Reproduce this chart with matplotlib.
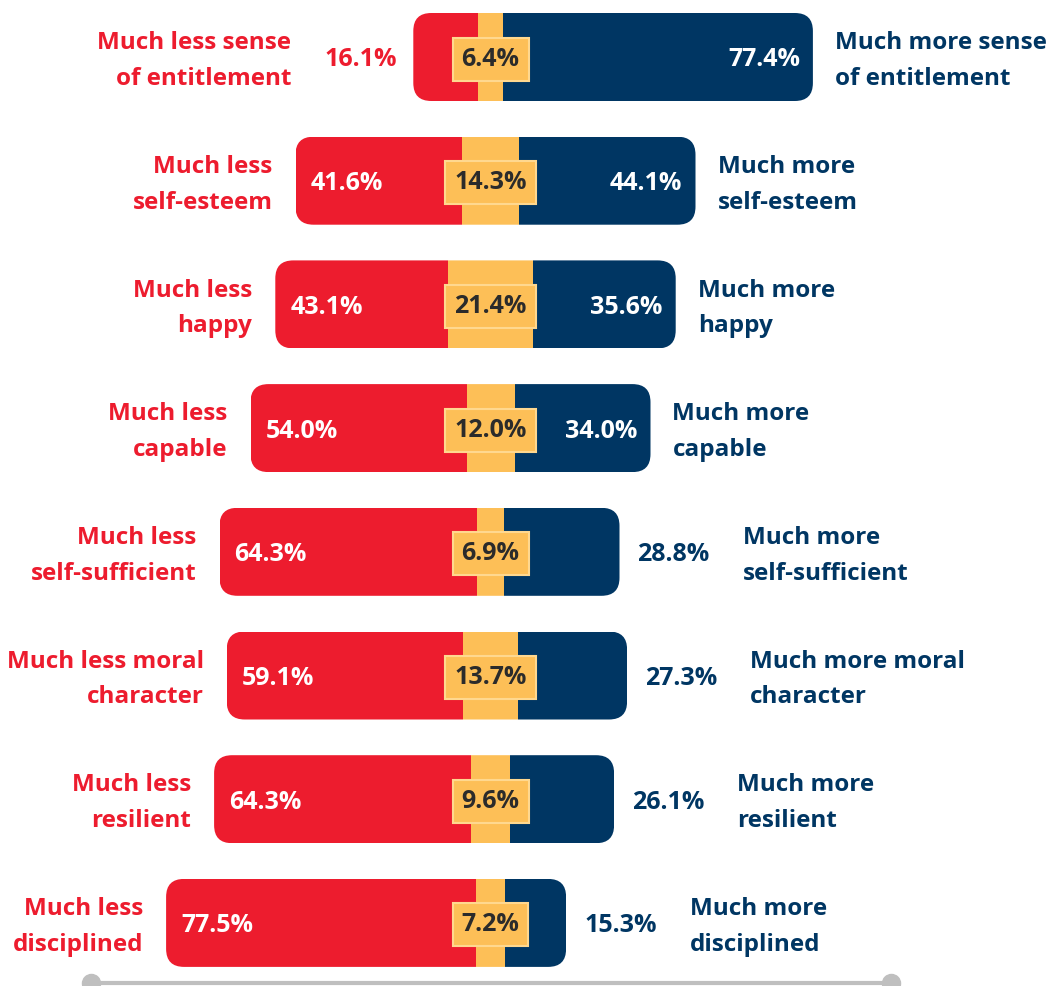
import matplotlib
matplotlib.use("Agg")
import matplotlib.pyplot as plt
from matplotlib.patches import FancyBboxPatch

plt.rcParams["font.family"] = ["Open Sans", "DejaVu Sans"]
plt.rcParams["font.weight"] = "bold"

less_labels = ["Much less sense\nof entitlement", "Much less\nself-esteem", "Much less\nhappy",
               "Much less\ncapable", "Much less\nself-sufficient", "Much less moral\ncharacter",
               "Much less\nresilient", "Much less\ndisciplined"]
more_labels = ["Much more sense\nof entitlement", "Much more\nself-esteem", "Much more\nhappy",
               "Much more\ncapable", "Much more\nself-sufficient", "Much more moral\ncharacter",
               "Much more\nresilient", "Much more\ndisciplined"]
less = [16.1, 41.6, 43.1, 54.0, 64.3, 59.1, 64.3, 77.5]
neutral = [6.4, 14.3, 21.4, 12.0, 6.9, 13.7, 9.6, 7.2]
more = [77.4, 44.1, 35.6, 34.0, 28.8, 27.3, 26.1, 15.3]

RED = "#ED1C2E"
YELLOW = "#FDBF57"
NAVY = "#003663"
GRAY = "#BFBFBF"

W, H = 1054, 986
fig = plt.figure(figsize=(W / 100, H / 100), dpi=100)
ax = fig.add_axes([0, 0, 1, 1])
ax.axis("off")

# 1% = 4 px, neutral centre at x=490.5px, rows every 123.7px from y=57px
px_x = 0.25
row_px = 123.7
ax.set_xlim(-490.5 * px_x, (W - 490.5) * px_x)
ax.set_ylim((H - 57) / row_px, -57 / row_px)

bar_h = 88 / row_px
rad = 18 * px_x
asp = (18 / row_px) / rad
fs_lab = 17.5
fs_val = 18
ls = 1.65
dy_lab = -4  # nudge text down a little
dy_val = -3

for i in range(len(less)):
    start = -less[i] - neutral[i] / 2
    total = less[i] + neutral[i] + more[i]
    clip = FancyBboxPatch((start, i - bar_h / 2), total, bar_h,
                          boxstyle=f"round,pad=0,rounding_size={rad}",
                          mutation_aspect=asp, facecolor="none", edgecolor="none")
    ax.add_patch(clip)
    bars = ax.barh([i, i, i], [less[i], neutral[i], more[i]],
                   left=[start, start + less[i], start + less[i] + neutral[i]],
                   height=bar_h, color=[RED, YELLOW, NAVY], linewidth=0)
    for b in bars:
        b.set_clip_path(clip)

    end = start + total

    # neutral value in a box
    ax.annotate(f"{neutral[i]:.1f}%", xy=(0, i), xytext=(0, dy_val + 1), textcoords="offset pixels",
                ha="center", va="center", fontsize=fs_val, color="#2B2B2B",
                bbox=dict(boxstyle="square,pad=0.36", facecolor=YELLOW, edgecolor="#FFD88F", linewidth=1.5))

    # "less" side
    if less[i] >= 20:
        ax.annotate(f"{less[i]:.1f}%", xy=(start, i), xytext=(15, dy_val), textcoords="offset pixels",
                    ha="left", va="center", fontsize=fs_val, color="white")
        ax.annotate(less_labels[i], xy=(start, i), xytext=(-23, dy_lab), textcoords="offset pixels",
                    ha="right", va="center", fontsize=fs_lab, color=RED, linespacing=ls)
    else:
        v = ax.annotate(f"{less[i]:.1f}%", xy=(start, i), xytext=(-16, dy_val), textcoords="offset pixels",
                        ha="right", va="center", fontsize=fs_val, color=RED)
        ax.annotate(less_labels[i], xy=(start, i), xytext=(-122, dy_lab), textcoords="offset pixels",
                    ha="right", va="center", fontsize=fs_lab, color=RED, linespacing=ls)

    # "more" side
    if more[i] >= 30:
        ax.annotate(f"{more[i]:.1f}%", xy=(end, i), xytext=(-13, dy_val), textcoords="offset pixels",
                    ha="right", va="center", fontsize=fs_val, color="white")
        ax.annotate(more_labels[i], xy=(end, i), xytext=(22, dy_lab), textcoords="offset pixels",
                    ha="left", va="center", fontsize=fs_lab, color=NAVY, linespacing=ls)
    else:
        v = ax.annotate(f"{more[i]:.1f}%", xy=(end, i), xytext=(18, dy_val), textcoords="offset pixels",
                        ha="left", va="center", fontsize=fs_val, color=NAVY)
        ax.annotate(more_labels[i], xy=(1, 0.5), xycoords=v, xytext=(33, dy_lab - dy_val),
                    textcoords="offset pixels",
                    ha="left", va="center", fontsize=fs_lab, color=NAVY, linespacing=ls)

# gray baseline with round ends
base_y = (983 - 57) / row_px
ax.plot([-100, 100], [base_y, base_y], color=GRAY, linewidth=3, clip_on=False,
        marker="o", markersize=13, markevery=[0, 1])

fig.savefig("out.png", dpi=100)
